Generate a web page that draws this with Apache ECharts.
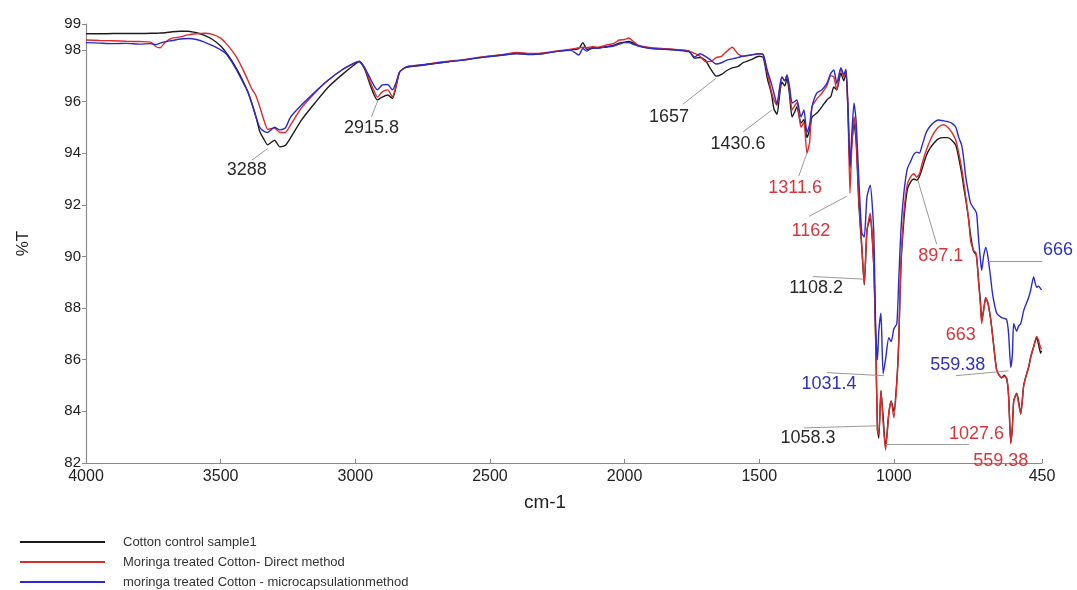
<!DOCTYPE html>
<html>
<head>
<meta charset="utf-8">
<script src="https://cdn.jsdelivr.net/npm/echarts@6/dist/echarts.min.js"></script>
<style>html,body{margin:0;padding:0;background:#fff}#c{width:1077px;height:590px}</style>
</head>
<body>
<div id="c"></div>
<script>
// ---- data (wavenumber cm-1, %T) ----
const wavenumbers = [4000,3950,3900,3850,3800,3760,3740,3725,3705,3680,3650,3620,3590,3560,3530,3500,3480,3460,3440,3420,3400,3385,3370,3355,3340,3325,3300,3280,3260,3240,3200,3150,3100,3050,3000,2985,2965,2945,2930,2918,2900,2880,2862,2848,2835,2810,2750,2700,2650,2600,2550,2500,2450,2400,2350,2300,2250,2200,2170,2155,2140,2120,2100,2070,2040,2020,2000,1985,1965,1950,1900,1850,1800,1760,1740,1720,1700,1680,1660,1640,1620,1600,1580,1560,1530,1500,1485,1470,1455,1445,1434,1425,1416,1405,1397,1388,1378,1368,1360,1345,1334,1323,1313,1304,1286,1267,1249,1234,1223,1212,1197,1186,1178,1170,1163,1156,1148,1140,1130,1119,1110,1100,1088,1075,1067,1061,1056,1048,1040,1031,1019,1010,1000,989,982,974,963,950,937,926,915,905,895,880,865,850,835,815,800,785,770,759,748,741,733,722,715,704,696,692,685,678,674,667,659,651,641,633,618,600,590,581,574,566,560,555,544,537,529,518,511,500,492,481,470,463,455,452];

const controlT = [98.62,98.62,98.63,98.63,98.63,98.64,98.64,98.65,98.66,98.70,98.72,98.72,98.66,98.56,98.40,98.15,97.90,97.60,97.25,96.85,96.40,95.95,95.45,94.85,94.55,94.32,94.50,94.24,94.30,94.60,95.28,95.94,96.56,97.03,97.45,97.55,97.25,96.65,96.25,96.06,96.17,96.25,96.12,96.60,97.15,97.32,97.40,97.48,97.55,97.60,97.68,97.75,97.80,97.86,97.84,97.86,97.94,98.00,98.05,98.28,98.02,98.06,98.08,98.12,98.18,98.26,98.30,98.32,98.25,98.16,98.06,98.02,98.00,97.95,97.68,97.70,97.60,97.25,96.98,97.05,97.20,97.30,97.35,97.50,97.62,97.75,97.70,96.90,96.30,95.70,95.50,96.20,96.76,96.60,96.90,96.30,95.40,95.60,95.80,95.16,95.30,94.60,94.90,95.40,95.55,95.80,96.06,96.20,96.56,96.45,97.10,96.80,97.15,95.50,93.40,94.40,95.16,94.40,92.00,90.30,88.90,91.00,91.50,89.70,86.50,83.30,82.97,84.80,83.80,82.60,83.90,84.40,84.00,85.20,86.70,89.60,91.40,92.60,92.90,93.00,92.95,93.10,93.40,93.90,94.20,94.40,94.55,94.60,94.60,94.50,94.30,93.80,93.20,92.70,92.20,91.40,90.80,90.20,90.10,89.90,89.00,88.20,87.50,87.90,88.40,88.20,87.60,86.90,85.60,85.30,85.40,85.25,84.60,82.80,83.40,84.40,84.70,84.40,83.90,85.00,85.30,85.70,86.10,86.50,86.85,86.60,86.25,86.35];

const directT = [98.38,98.36,98.35,98.33,98.32,98.30,98.12,98.08,98.30,98.45,98.50,98.58,98.62,98.64,98.60,98.45,98.25,98.00,97.70,97.30,96.85,96.50,96.25,95.80,95.30,94.92,94.97,94.80,94.80,95.10,95.75,96.33,96.83,97.22,97.50,97.56,97.30,96.75,96.40,96.17,96.37,96.45,96.18,96.65,97.15,97.34,97.42,97.50,97.56,97.62,97.70,97.76,97.82,97.90,97.86,97.88,97.96,98.02,98.08,98.10,98.08,98.12,98.10,98.18,98.25,98.38,98.40,98.46,98.30,98.18,98.08,98.04,98.00,97.95,97.86,97.75,97.55,97.55,97.70,97.75,97.95,98.10,97.85,97.75,97.80,97.85,97.80,97.10,96.40,96.05,95.85,96.40,96.95,96.80,97.03,96.50,95.67,95.85,95.95,95.00,95.20,94.00,94.40,95.80,96.10,96.33,96.60,97.00,96.95,96.45,97.30,96.95,97.20,95.40,92.45,94.30,95.40,94.60,92.20,90.40,88.95,91.00,91.67,89.70,86.50,83.25,83.10,84.80,83.60,82.50,83.90,84.40,83.75,85.10,86.70,89.73,91.67,92.80,93.10,93.20,93.07,93.20,93.60,94.10,94.50,94.80,95.00,95.10,95.00,94.80,94.50,94.00,93.40,92.90,92.30,91.40,90.60,90.23,90.15,89.90,88.95,88.00,87.40,87.90,88.40,88.20,87.60,86.90,85.57,85.30,85.35,85.30,84.60,82.74,83.40,84.40,84.68,84.30,83.90,85.00,85.30,85.70,86.08,86.50,86.90,86.75,86.45,86.40];

const microT = [98.28,98.26,98.24,98.25,98.22,98.24,98.20,98.26,98.32,98.36,98.42,98.44,98.40,98.30,98.16,98.00,97.85,97.55,97.20,96.80,96.40,95.95,95.45,95.00,94.85,94.80,95.00,94.90,94.97,95.40,95.86,96.37,96.83,97.22,97.50,97.55,97.30,96.90,96.60,96.45,96.64,96.66,96.45,96.75,97.15,97.34,97.42,97.48,97.55,97.60,97.68,97.74,97.80,97.86,97.82,97.86,97.94,97.98,97.80,98.05,97.95,98.08,98.06,98.10,98.15,98.22,98.28,98.28,98.20,98.15,98.05,98.02,97.98,97.92,97.72,97.85,97.75,97.60,97.45,97.50,97.60,97.65,97.70,97.75,97.80,97.85,97.82,97.20,96.70,96.30,95.90,96.50,96.95,96.80,97.03,96.60,95.94,96.00,96.06,95.40,95.67,94.80,95.10,95.80,96.33,96.45,96.70,97.10,97.22,96.70,97.30,97.05,97.25,95.70,93.50,94.80,95.94,95.20,92.95,90.90,90.75,92.30,92.76,91.00,87.00,86.00,87.10,87.80,85.45,86.00,86.85,86.70,87.20,87.40,89.07,91.00,92.45,93.40,93.70,93.95,94.04,94.00,94.30,94.80,95.05,95.20,95.28,95.25,95.22,95.16,95.00,94.60,94.30,93.80,93.07,92.40,92.06,91.87,91.75,91.60,90.60,89.80,89.46,90.00,90.35,90.00,89.20,88.50,87.80,87.63,87.60,87.55,87.00,85.70,86.20,87.40,87.10,87.30,87.40,87.90,88.10,88.40,88.70,89.20,88.80,88.85,88.75,88.70];

const xTicks = [4000,3500,3000,2500,2000,1500,1000,450];
const yTicks = [82,84,86,88,90,92,94,96,98,99];
const seriesNames = ['Cotton control sample1','Moringa treated Cotton- Direct method','moringa treated Cotton - microcapsulationmethod'];

// annotations: [text, label anchor (cm-1, %T), leader start, leader end, label shift]
const controlNotes = [
  ['3288',   [3403,93.34], [3384,93.73], [3325,94.18]],
  ['2915.8', [2940,94.97], [2940,95.40], [2917,96.02]],
  ['1657',   [1835,95.40], [1783,95.90], [1660,96.90]],
  ['1430.6', [1579,94.35], [1560,94.82], [1453,95.67]],
  ['1108.2', [1289,88.76], [1301,89.22], [1112,89.12]],
  ['1058.3', [1319,82.97], [1334,83.36], [1063,83.44]]
];
const directNotes = [
  ['1311.6', [1367,92.64], [1353,93.11], [1323,94.00]],
  ['1162',   [1308,90.97], [1315,91.55], [1175,92.33]],
  ['897.1',  [826,90.00],  [841,90.47],  [911,92.95]],
  ['663',    [752,86.97]],
  ['1027.6', [693,83.13],  [1030,82.74], [722,82.74]],
  ['559.38', [603,82.08]]
];
const microNotes = [
  ['666',    [450,90.26],  [655,89.81],  [450,89.81], [16,0]],
  ['559.38', [763,85.80],  [770,85.38],  [574,85.57]],
  ['1031.4', [1241,85.07], [1249,85.50], [1037,85.38]]
];

const colors = ['#1c1c1c','#dd2a2a','#2a2ad0'];
const noteColors = ['#2a2a2a','#d8353b','#2e32c4'];
const FONT = 'Liberation Sans, Arial, sans-serif';

function notesToMarks(notes, color) {
  return {
    markPoint: {
      symbol: 'circle', symbolSize: 0, silent: true,
      label: { show: true, position: 'inside', color: color, fontSize: 18, fontFamily: FONT,
        formatter: p => p.name },
      data: notes.map(n => ({ name: n[0], coord: n[1], label: n[4] ? { offset: n[4] } : undefined }))
    },
    markLine: {
      silent: true, symbol: ['none','none'], animation: false,
      lineStyle: { color: '#9a9a9a', width: 1, type: 'solid' },
      label: { show: false },
      data: notes.filter(n => n.length > 2).map(n => [{ coord: n[2] }, { coord: n[3] }])
    }
  };
}

const tables = [controlT, directT, microT];
const noteSets = [controlNotes, directNotes, microNotes];

const chart = echarts.init(document.getElementById('c'));
chart.setOption({
  animation: false,
  backgroundColor: '#fff',
  grid: { left: 86, right: 35, top: 24, bottom: 127 },
  legend: {
    orient: 'vertical', left: 20, top: 535, padding: 0,
    icon: 'rect', itemWidth: 85, itemHeight: 2, itemGap: 6,
    textStyle: { fontSize: 13, lineHeight: 14, color: '#333', fontFamily: FONT, padding: [0,0,0,13] },
    data: seriesNames
  },
  xAxis: {
    type: 'value', inverse: true, min: 450, max: 4000,
    name: 'cm-1', nameLocation: 'middle', nameGap: 30,
    nameTextStyle: { fontSize: 19, color: '#222', fontFamily: FONT, padding: [0, 38, 0, 0] },
    axisLine: { lineStyle: { color: '#8a8a8a', width: 1.2 } },
    axisTick: { inside: true, length: 4, customValues: xTicks, lineStyle: { color: '#8a8a8a' } },
    axisLabel: { customValues: xTicks, formatter: v => String(v), fontSize: 16, color: '#222', margin: 6, fontFamily: FONT },
    splitLine: { show: false }
  },
  yAxis: {
    type: 'value', min: 82, max: 99,
    name: '%T', nameLocation: 'middle', nameGap: 54, nameRotate: 90,
    nameTextStyle: { fontSize: 17, color: '#222', fontFamily: FONT },
    axisLine: { show: true, lineStyle: { color: '#8a8a8a', width: 1.2 } },
    axisTick: { show: true, length: 4, customValues: yTicks, lineStyle: { color: '#8a8a8a' } },
    axisLabel: { customValues: yTicks, fontSize: 15, color: '#222', margin: 5, fontFamily: FONT },
    splitLine: { show: false }
  },
  series: seriesNames.map((name, k) => Object.assign({
    name: name, type: 'line', symbol: 'none', smooth: 0.2,
    color: colors[k],
    lineStyle: { color: colors[k], width: 1.4 },
    data: wavenumbers.map((w, i) => [w, tables[k][i]])
  }, notesToMarks(noteSets[k], noteColors[k])))
});
</script>
</body>
</html>
